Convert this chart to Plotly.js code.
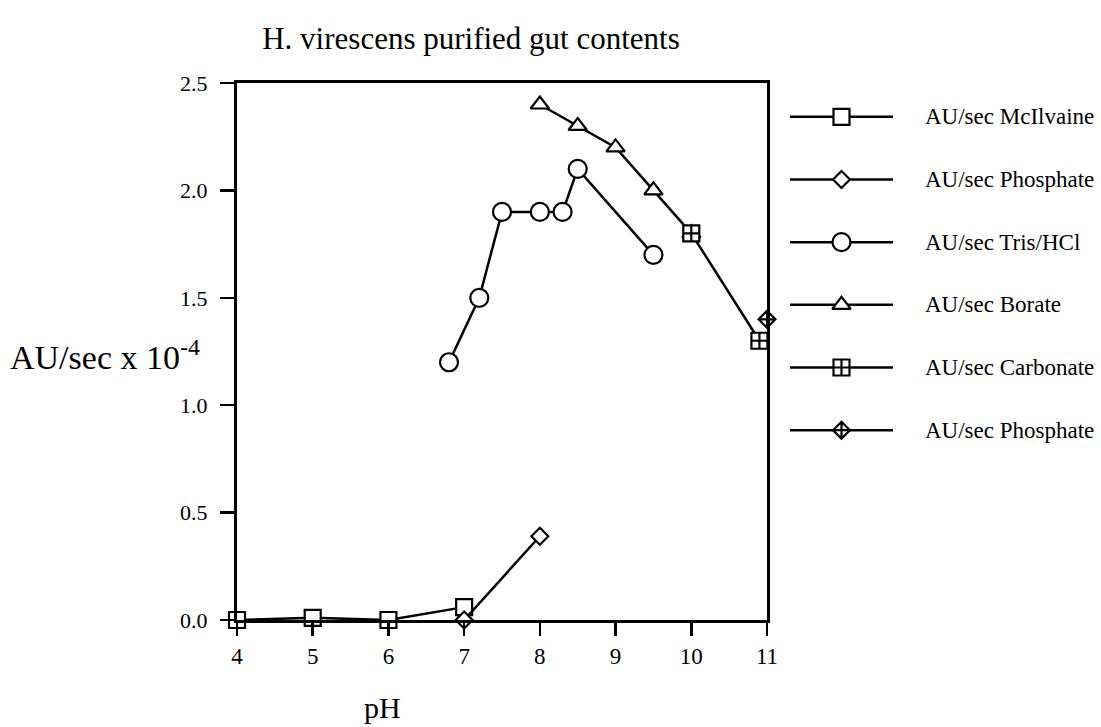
<!DOCTYPE html>
<html>
<head>
<meta charset="utf-8">
<script src="https://cdn.plot.ly/plotly-3.0.1.min.js"></script>
<style>html,body{margin:0;padding:0;background:#fff;}#chart{width:1101px;height:727px;}</style>
</head>
<body>
<div id="chart"></div>
<script>
// ---- data ----
const seriesNames = ["AU/sec McIlvaine", "AU/sec Phosphate", "AU/sec Tris/HCl", "AU/sec Borate", "AU/sec Carbonate", "AU/sec Phosphate"];
const mcilvainePH = [4, 5, 6, 7];
const mcilvaineAU = [0.0, 0.01, 0.0, 0.06];
const phosphatePH = [7, 8];
const phosphateAU = [0.0, 0.39];
const trisPH = [6.8, 7.2, 7.5, 8.0, 8.3, 8.5, 9.5];
const trisAU = [1.2, 1.5, 1.9, 1.9, 1.9, 2.1, 1.7];
const boratePH = [8.0, 8.5, 9.0, 9.5, 10.0];
const borateAU = [2.4, 2.3, 2.2, 2.0, 1.8];
const carbonatePH = [10.0, 10.9];
const carbonateAU = [1.8, 1.3];
const phosphate2PH = [11.0];
const phosphate2AU = [1.4];
const xTicks = [4, 5, 6, 7, 8, 9, 10, 11];
const yTicks = [0.0, 0.5, 1.0, 1.5, 2.0, 2.5];
const yTickLabels = ["0.0", "0.5", "1.0", "1.5", "2.0", "2.5"];

// ---- styling ----
const W = 1101, H = 727;
const FONT = "Liberation Serif, Times New Roman, serif";
const symbols = ["square", "diamond", "circle", "triangle-up", "square-cross", "diamond-cross"];
const sizes = [16, 13, 18, 16, 16, 13];
const xs = [mcilvainePH, phosphatePH, trisPH, boratePH, carbonatePH, phosphate2PH];
const ys = [mcilvaineAU, phosphateAU, trisAU, borateAU, carbonateAU, phosphate2AU];

const traces = [];
for (let i = 0; i < seriesNames.length; i++) {
  traces.push({
    x: xs[i], y: ys[i], name: seriesNames[i], type: "scatter", mode: "lines+markers",
    line: {color: "#000", width: 2.5},
    marker: {symbol: symbols[i], size: sizes[i], color: "#fff", line: {color: "#000", width: 2.2}},
    cliponaxis: false, showlegend: false, xaxis: "x", yaxis: "y"
  });
}
// custom legend samples (wide line with marker in the middle)
const legendAnn = [];
for (let i = 0; i < seriesNames.length; i++) {
  traces.push({
    x: [0, 2], y: [i, i], type: "scatter", mode: "lines",
    line: {color: "#000", width: 2.5},
    cliponaxis: false, showlegend: false, hoverinfo: "skip", xaxis: "x2", yaxis: "y2"
  });
  traces.push({
    x: [1], y: [i], type: "scatter", mode: "markers",
    marker: {symbol: symbols[i], size: sizes[i], color: "#fff", line: {color: "#000", width: 2.2}},
    cliponaxis: false, showlegend: false, hoverinfo: "skip", xaxis: "x2", yaxis: "y2"
  });
  legendAnn.push({
    text: seriesNames[i], xref: "x2", yref: "y2", x: 2, y: i, xanchor: "left", yanchor: "middle",
    xshift: 30, showarrow: false, font: {family: FONT, size: 23, color: "#000"}
  });
}

const layout = {
  width: W, height: H,
  margin: {l: 0, r: 0, t: 0, b: 0},
  paper_bgcolor: "#fff", plot_bgcolor: "#fff",
  font: {family: FONT, color: "#000"},
  showlegend: false,
  title: {text: "H. virescens purified gut contents", font: {family: FONT, size: 31, color: "#000"},
          x: 471 / W, xanchor: "center", xref: "paper", y: 1 - 38 / H, yanchor: "middle", yref: "container"},
  xaxis: {
    domain: [237 / W, 767 / W], range: [4, 11], tickvals: xTicks, ticktext: xTicks.map(String),
    ticks: "outside", ticklen: 13, tickwidth: 2.5, tickcolor: "#000",
    showline: true, linewidth: 3, linecolor: "#000", mirror: true,
    showgrid: false, zeroline: false, tickfont: {family: FONT, size: 23, color: "#000"},
    anchor: "y", fixedrange: true
  },
  yaxis: {
    domain: [1 - 620 / H, 1 - 83 / H], range: [0, 2.5], tickvals: yTicks, ticktext: yTickLabels,
    ticks: "outside", ticklen: 14, tickwidth: 2.5, tickcolor: "#000", ticklabelstandoff: 8,
    showline: true, linewidth: 3, linecolor: "#000", mirror: true,
    showgrid: false, zeroline: false, tickfont: {family: FONT, size: 22, color: "#000"},
    anchor: "x", fixedrange: true
  },
  xaxis2: {domain: [790 / W, 893 / W], range: [0, 2], visible: false, anchor: "y2", fixedrange: true},
  yaxis2: {domain: [1 - 461.5 / H, 1 - 85.5 / H], range: [5.5, -0.5], visible: false, anchor: "x2", fixedrange: true},
  annotations: legendAnn.concat([
    {text: "AU/sec x 10<sup>-4</sup>", xref: "paper", yref: "paper", x: 202 / W, y: 1 - 355 / H,
     xanchor: "right", yanchor: "middle", showarrow: false, font: {family: FONT, size: 34, color: "#000"}},
    {text: "pH", xref: "paper", yref: "paper", x: 382 / W, y: 1 - 726 / H,
     xanchor: "center", yanchor: "bottom", showarrow: false, font: {family: FONT, size: 30, color: "#000"}}
  ])
};

Plotly.newPlot("chart", traces, layout, {staticPlot: true, displayModeBar: false});
</script>
</body>
</html>
